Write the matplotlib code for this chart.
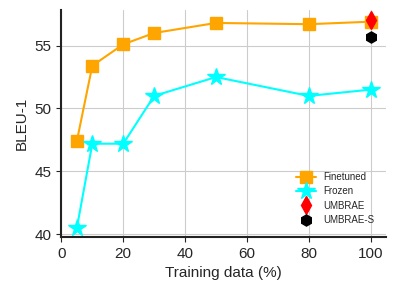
import matplotlib
matplotlib.use("Agg")
import matplotlib.pyplot as plt
import seaborn as sns

sns.set_style("ticks")
plt.rcParams['font.family'] = ['Liberation Sans', 'DejaVu Sans']

# training data percentages and BLEU-1 scores
x = [5, 10, 20, 30, 50, 80, 100]
finetuned = [47.4, 53.4, 55.1, 56.0, 56.8, 56.7, 56.9]
frozen = [40.5, 47.2, 47.2, 51.0, 52.5, 51.0, 51.5]
umbrae_x = [100]
umbrae = [57.0]
umbrae_s = [55.7]

fig, ax = plt.subplots(figsize=(3.96, 2.96), dpi=100)

ax.plot(x, finetuned, color='orange', marker='s', markersize=9, label='Finetuned')
ax.plot(x, frozen, color='cyan', marker='*', markersize=13, label='Frozen')
ax.plot(umbrae_x, umbrae, 'd', color='red', markersize=9, label='UMBRAE')
ax.plot(umbrae_x, umbrae_s, 'h', color='black', markersize=8, label='UMBRAE-S')

ax.set_xlim(0, 105)
ax.set_ylim(39.8, 57.8)
ax.set_xticks([0, 20, 40, 60, 80, 100])
ax.set_yticks([40, 45, 50, 55])
ax.grid(True, color='#cccccc', linewidth=0.8)
ax.set_axisbelow(True)
ax.set_xlabel('Training data (%)', fontsize=11)
ax.set_ylabel('BLEU-1', fontsize=11)
ax.tick_params(labelsize=11)
for s in ['top', 'right']:
    ax.spines[s].set_visible(False)
for s in ['left', 'bottom']:
    ax.spines[s].set_color('#222222')
    ax.spines[s].set_linewidth(1.5)

ax.legend(loc='lower right', frameon=False, fontsize=7, borderaxespad=0.8,
          labelspacing=0.45)

fig.subplots_adjust(left=0.155, right=0.975, bottom=0.2, top=0.965)
fig.savefig('out.png')
